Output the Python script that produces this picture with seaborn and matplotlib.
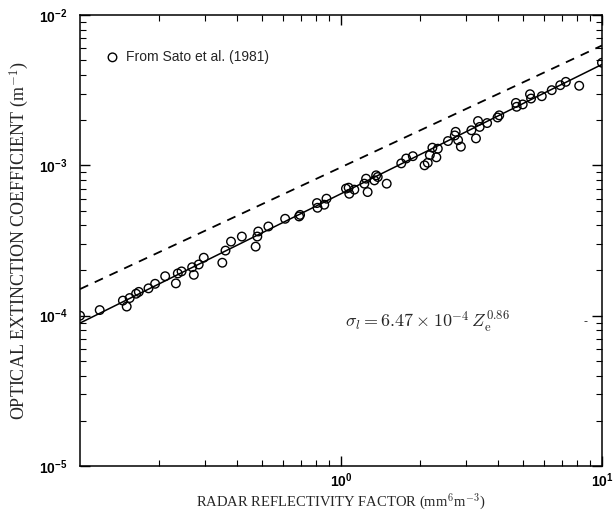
import matplotlib
matplotlib.use('Agg')
import matplotlib.pyplot as plt
import seaborn as sns
import numpy as np
import pandas as pd
from matplotlib.ticker import LogLocator, NullFormatter

# radar reflectivity factor Ze (mm^6 m^-3)
ze = [0.100, 0.119, 0.146, 0.151, 0.155, 0.164, 0.168, 0.183, 0.194, 0.212,
      0.233, 0.237, 0.245, 0.269, 0.273, 0.285, 0.298, 0.351, 0.361, 0.379,
      0.417, 0.471, 0.478, 0.482, 0.527, 0.611, 0.691, 0.697, 0.809, 0.813,
      0.863, 0.880, 1.045, 1.07, 1.076, 1.125, 1.229, 1.248, 1.265, 1.343,
      1.364, 1.383, 1.497, 1.702, 1.778, 1.885, 2.09, 2.15, 2.19, 2.24,
      2.32, 2.35, 2.57, 2.73, 2.75, 2.81, 2.88, 3.16, 3.29, 3.35,
      3.40, 3.63, 3.98, 4.04, 4.68, 4.71, 4.97, 5.30, 5.35, 5.88,
      6.42, 6.92, 7.27, 8.18, 10.0]
# optical extinction coefficient (m^-1)
sigma = [1.00e-4, 1.09e-4, 1.26e-4, 1.15e-4, 1.31e-4, 1.40e-4, 1.44e-4, 1.52e-4, 1.63e-4, 1.83e-4,
         1.64e-4, 1.91e-4, 1.97e-4, 2.10e-4, 1.87e-4, 2.19e-4, 2.43e-4, 2.25e-4, 2.71e-4, 3.11e-4,
         3.36e-4, 2.88e-4, 3.36e-4, 3.63e-4, 3.92e-4, 4.41e-4, 4.57e-4, 4.68e-4, 5.61e-4, 5.22e-4,
         5.47e-4, 6.00e-4, 7.00e-4, 7.10e-4, 6.47e-4, 6.89e-4, 7.55e-4, 8.15e-4, 6.64e-4, 7.94e-4,
         8.58e-4, 8.36e-4, 7.55e-4, 1.03e-3, 1.11e-3, 1.15e-3, 1.00e-3, 1.04e-3, 1.17e-3, 1.31e-3,
         1.13e-3, 1.29e-3, 1.45e-3, 1.58e-3, 1.67e-3, 1.47e-3, 1.33e-3, 1.71e-3, 1.51e-3, 1.97e-3,
         1.80e-3, 1.91e-3, 2.08e-3, 2.15e-3, 2.60e-3, 2.45e-3, 2.54e-3, 2.97e-3, 2.78e-3, 2.88e-3,
         3.16e-3, 3.41e-3, 3.59e-3, 3.38e-3, 4.81e-3]

# power laws sigma = a * Ze^b
fit_a, fit_b = 6.47e-4, 0.86
ref_a, ref_b = 9.7e-4, 0.81

sns.set_style("ticks")
plt.rcParams['font.family'] = ['Liberation Sans', 'DejaVu Sans']
plt.rcParams['mathtext.fontset'] = 'cm'

fig = plt.figure(figsize=(6.13, 5.15), dpi=100)
ax = fig.add_axes([0.1305, 0.095, 0.8515, 0.876])

zline = np.logspace(-1, 1, 50)
lines = pd.DataFrame({'ze': zline,
                      'fit': fit_a * zline ** fit_b,
                      'ref': ref_a * zline ** ref_b})
pts = pd.DataFrame({'ze': ze, 'sigma': sigma})

sns.lineplot(data=lines, x='ze', y='ref', ax=ax, color='black', lw=1.3,
             linestyle=(0, (5, 4)))
sns.lineplot(data=lines, x='ze', y='fit', ax=ax, color='black', lw=1.1)
sns.scatterplot(data=pts, x='ze', y='sigma', ax=ax, marker='o', s=38,
                facecolor='none', edgecolor='black', linewidth=1.0,
                label='From Sato et al. (1981)', zorder=3)

ax.set_xscale('log')
ax.set_yscale('log')
ax.set_xlim(0.1, 10)
ax.set_ylim(1e-5, 1e-2)

for side in ax.spines.values():
    side.set_linewidth(1.1)
    side.set_color('black')
ax.tick_params(which='both', direction='in', top=True, right=True, colors='black')
ax.tick_params(which='major', length=7, width=1.0, labelsize=10)
ax.tick_params(which='minor', length=4, width=0.8)
ax.tick_params(axis='x', which='major', pad=4)
ax.tick_params(axis='y', which='major', pad=9)
ax.xaxis.set_minor_locator(LogLocator(base=10, subs=np.arange(2, 10)))
ax.yaxis.set_minor_locator(LogLocator(base=10, subs=np.arange(2, 10)))
ax.xaxis.set_minor_formatter(NullFormatter())
ax.yaxis.set_minor_formatter(NullFormatter())
ax.set_xticks([1, 10])
ax.set_yticks([1e-5, 1e-4, 1e-3, 1e-2])
for lab in ax.get_xticklabels() + ax.get_yticklabels():
    lab.set_fontweight('bold')

ax.set_xlabel(r'RADAR REFLECTIVITY FACTOR (mm$^6$m$^{-3}$)',
              family='Liberation Serif', fontsize=10.5, labelpad=1)
ax.set_ylabel(r'OPTICAL EXTINCTION COEFFICIENT (m$^{-1}$)',
              family='Liberation Serif', fontsize=13, labelpad=6)

ax.text(0.508, 0.319, r'$\sigma_l = 6.47 \times 10^{-4}\, Z_{\rm e}^{0.86}$',
        transform=ax.transAxes, fontsize=13, va='center', ha='left')
ax.text(0.968, 0.319, '-', transform=ax.transAxes, fontsize=9,
        va='center', ha='center')

leg = ax.legend(loc='upper left', bbox_to_anchor=(0.025, 0.95), frameon=False,
                handletextpad=0.5, handlelength=1.0, fontsize=10)

fig.savefig('out.png', dpi=100)
